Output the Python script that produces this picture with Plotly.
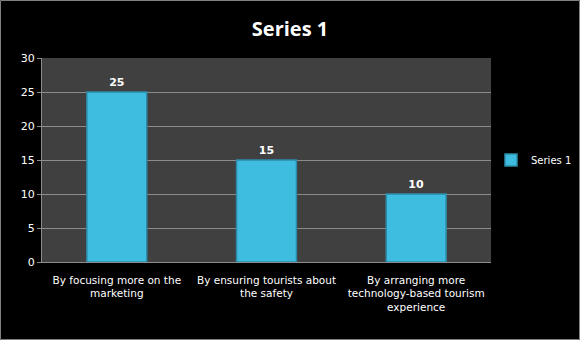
import plotly.graph_objects as go

categories = ["By focusing more on the<br>marketing",
              "By ensuring tourists about<br>the safety",
              "By arranging more<br>technology-based tourism<br>experience"]
values = [25, 15, 10]
series_name = "Series 1"
y_ticks = [0, 5, 10, 15, 20, 25, 30]

fig = go.Figure()
fig.add_trace(go.Bar(
    x=categories, y=values, name=series_name,
    marker=dict(color="#3FBDE0", line=dict(color="#2B8CAA", width=1.5)),
    width=0.4,
    text=["<b>%d</b>" % v for v in values], textposition="outside",
    textfont=dict(color="white", size=11, family="DejaVu Sans"),
    cliponaxis=False,
    showlegend=True,
))

fig.update_layout(
    width=580, height=340,
    paper_bgcolor="black",
    plot_bgcolor="#404040",
    margin=dict(l=42, r=89, t=58, b=78, autoexpand=False),
    title=dict(text="<b>Series 1</b>", x=0.5, xanchor="center", y=0.915, yanchor="middle",
               font=dict(color="white", size=20, family="Open Sans")),
    font=dict(color="white", family="DejaVu Sans", size=10),
    legend=dict(x=1.0, xanchor="left", y=0.5, yanchor="middle",
                font=dict(color="white", size=10), bgcolor="rgba(0,0,0,0)",
                itemwidth=30),
    bargap=0.6,
)
fig.update_yaxes(range=[0, 30], tickvals=y_ticks, showgrid=True, gridcolor="#8C8C8C",
                 gridwidth=1, showline=True, linecolor="#8C8C8C", ticks="outside",
                 tickcolor="#8C8C8C", ticklen=4, zeroline=False,
                 tickfont=dict(color="white", size=11, family="DejaVu Sans"))
fig.update_xaxes(showline=True, linecolor="#8C8C8C", ticks="", tickangle=0,
                 ticklabelstandoff=8,
                 tickfont=dict(color="white", size=10.5, family="DejaVu Sans"))

fig.add_shape(type="rect", xref="paper", yref="paper", x0=-41.5/449, x1=1+88.5/449,
              y0=-77.5/204, y1=1+57.5/204, line=dict(color="#808080", width=1))

fig.write_html("out.html")
